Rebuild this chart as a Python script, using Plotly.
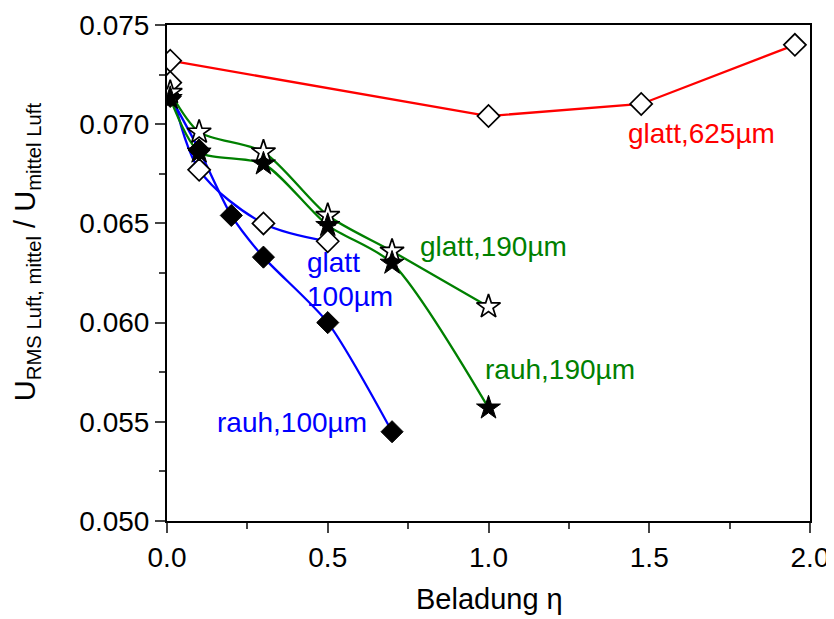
import plotly.graph_objects as go

# data
x_g625 = [0.01, 1.0, 1.475, 1.953]
y_g625 = [0.0732, 0.07041, 0.07102, 0.0740]

x_g100 = [0.01, 0.1, 0.3, 0.5]
y_g100 = [0.0721, 0.0677, 0.0650, 0.0641]

x_r100 = [0.01, 0.1, 0.2, 0.3, 0.5, 0.7]
y_r100 = [0.0714, 0.0687, 0.0654, 0.0633, 0.0600, 0.0545]

x_g190 = [0.01, 0.1, 0.3, 0.5, 0.7, 1.0]
y_g190 = [0.0716, 0.0696, 0.0686, 0.0654, 0.0636, 0.0608]

x_r190 = [0.01, 0.1, 0.3, 0.5, 0.7, 1.0]
y_r190 = [0.0713, 0.0686, 0.0680, 0.0649, 0.0630, 0.0557]

x_ticks = [0.0, 0.5, 1.0, 1.5, 2.0]
y_ticks = [0.050, 0.055, 0.060, 0.065, 0.070, 0.075]

RED = "#ff0000"
BLUE = "#0000ff"
GREEN = "#008000"
FONT = "Liberation Sans, Arial, sans-serif"

fig = go.Figure()

# lines
LW = 2.3
fig.add_trace(go.Scatter(x=x_g625, y=y_g625, mode="lines", line=dict(color=RED, width=LW)))
fig.add_trace(go.Scatter(x=x_g100, y=y_g100, mode="lines", line=dict(color=BLUE, width=LW, shape="spline", smoothing=0.9)))
fig.add_trace(go.Scatter(x=x_r100, y=y_r100, mode="lines", line=dict(color=BLUE, width=LW, shape="spline", smoothing=0.7)))
fig.add_trace(go.Scatter(x=x_g190, y=y_g190, mode="lines", line=dict(color=GREEN, width=LW, shape="spline", smoothing=0.75)))
fig.add_trace(go.Scatter(x=x_r190, y=y_r190, mode="lines", line=dict(color=GREEN, width=LW, shape="spline", smoothing=0.75)))

# markers
open_d = dict(symbol="diamond", size=17, color="white", line=dict(color="black", width=1.7))
fill_d = dict(symbol="diamond", size=17, color="black", line=dict(color="black", width=1))
open_s = dict(symbol="star", size=18, color="white", line=dict(color="black", width=1.7))
fill_s = dict(symbol="star", size=18, color="black", line=dict(color="black", width=1))

fig.add_trace(go.Scatter(x=x_g625, y=y_g625, mode="markers", marker=open_d))
fig.add_trace(go.Scatter(x=x_g100, y=y_g100, mode="markers", marker=open_d))
fig.add_trace(go.Scatter(x=x_r100, y=y_r100, mode="markers", marker=fill_d))
fig.add_trace(go.Scatter(x=x_g190, y=y_g190, mode="markers", marker=open_s))
fig.add_trace(go.Scatter(x=x_r190, y=y_r190, mode="markers", marker=fill_s))

ann_font = 28
annotations = [
    dict(x=1.664, y=0.06951, text="glatt,625µm", color=RED, xanchor="center"),
    dict(x=1.017, y=0.06386, text="glatt,190µm", color=GREEN, xanchor="center"),
    dict(x=1.222, y=0.05766, text="rauh,190µm", color=GREEN, xanchor="center"),
    dict(x=0.389, y=0.05494, text="rauh,100µm", color=BLUE, xanchor="center"),
    dict(x=0.429, y=0.06305, text="glatt", color=BLUE, xanchor="left"),
    dict(x=0.429, y=0.06134, text="100µm", color=BLUE, xanchor="left"),
]
for a in annotations:
    fig.add_annotation(x=a["x"], y=a["y"], text=a["text"], showarrow=False,
                       xanchor=a["xanchor"], yanchor="middle",
                       font=dict(family=FONT, size=ann_font, color=a["color"]))

# axis titles
fig.add_annotation(xref="paper", yref="paper", x=0.5008, y=-0.158,
                   text="Beladung η", showarrow=False, xanchor="center", yanchor="middle",
                   font=dict(family=FONT, size=29, color="black"))
fig.add_annotation(xref="paper", yref="paper", x=-0.2177, y=0.542,
                   text="U<sub>RMS Luft, mittel</sub> / U<sub>mittel Luft</sub>", textangle=-90,
                   showarrow=False, xanchor="center", yanchor="middle",
                   font=dict(family=FONT, size=29, color="black"))

fig.update_layout(
    width=826, height=611,
    margin=dict(l=159, r=24, t=17, b=98),
    paper_bgcolor="white", plot_bgcolor="white",
    showlegend=False,
    font=dict(family=FONT, size=28, color="black"),
)
fig.update_xaxes(
    range=[0, 2.0], tickvals=x_ticks, ticktext=[f"{v:.1f}" for v in x_ticks],
    ticks="outside", ticklen=10, tickwidth=2, showline=True, linewidth=2, linecolor="black",
    mirror=True, showgrid=False, zeroline=False, automargin=False,
    minor=dict(ticks="outside", ticklen=6, tickwidth=2, dtick=0.25, tick0=0, showgrid=False),
    tickfont=dict(size=28),
)
fig.update_yaxes(
    range=[0.050, 0.075], tickvals=y_ticks, ticktext=[f"{v:.3f}" for v in y_ticks],
    ticks="outside", ticklen=10, tickwidth=2, showline=True, linewidth=2, linecolor="black",
    mirror=True, showgrid=False, zeroline=False, automargin=False,
    minor=dict(ticks="outside", ticklen=6, tickwidth=2, dtick=0.0025, tick0=0.05, showgrid=False),
    tickfont=dict(size=28),
)

fig.write_html("out.html")
